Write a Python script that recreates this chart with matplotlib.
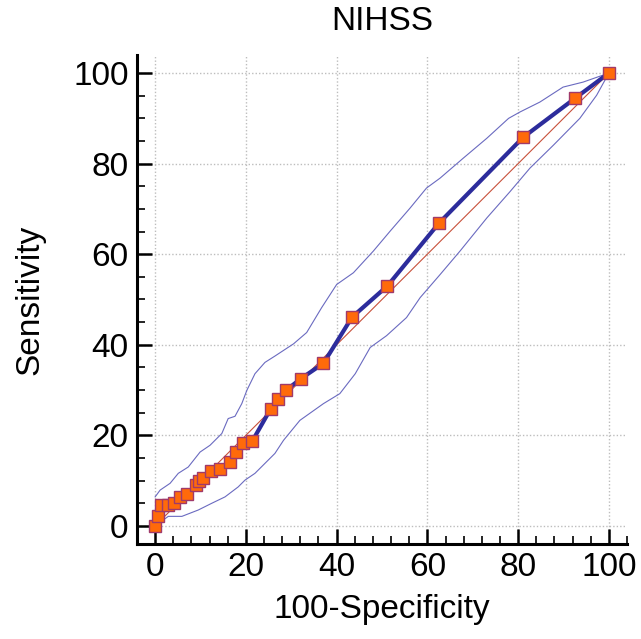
import matplotlib
matplotlib.use("Agg")
import matplotlib.pyplot as plt
from matplotlib.ticker import MultipleLocator

plt.rcParams['font.family'] = ['Liberation Sans', 'DejaVu Sans']

# ROC points (100-Specificity, Sensitivity)
fpr = [0, 0.6, 1.3, 2.8, 4.1, 5.4, 7.1, 8.9, 9.7, 10.6, 12.4, 14.3, 16.4, 17.8,
       19.3, 21.4, 25.5, 27.0, 28.8, 32.1, 37.1, 43.4, 51.2, 62.5, 81.1, 92.5, 100]
tpr = [0, 2.2, 4.5, 4.5, 5.1, 6.4, 7.0, 9.0, 9.9, 10.6, 12.2, 12.6, 14.2, 16.3,
       18.3, 18.7, 25.9, 28.0, 29.9, 32.5, 35.9, 46.1, 53.0, 66.8, 85.8, 94.4, 100]

# confidence bounds
upper_x = [0, 1.1, 3.3, 5.1, 7.3, 9.9, 12.1, 14.7, 16.1, 17.6, 19.1, 20.2, 22.0, 24.2,
           26.4, 30.5, 33.4, 36.7, 40.0, 43.7, 48.1, 51.8, 56.2, 59.8, 62.8, 67.9,
           73.1, 77.9, 80.4, 84.8, 89.9, 94.3, 100]
upper_y = [6.4, 7.9, 9.4, 11.6, 13.0, 16.3, 17.8, 20.4, 23.7, 24.2, 27.0, 29.9, 33.6, 36.1,
           37.5, 40.2, 42.7, 48.2, 53.3, 55.9, 60.7, 65.1, 70.2, 74.6, 76.8, 81.2,
           85.6, 90.0, 91.4, 93.6, 96.9, 98.0, 100]
lower_x = [0.4, 1.8, 2.9, 5.9, 9.5, 12.5, 15.4, 18.3, 19.8, 22.0, 24.2, 26.4, 28.3, 31.9,
           37.1, 40.7, 44.1, 47.4, 51.0, 55.4, 58.4, 62.8, 67.2, 73.1, 78.2, 82.6,
           87.8, 93.6, 97.3, 100]
lower_y = [0, 1.3, 2.1, 2.1, 3.5, 5.0, 6.4, 8.6, 10.1, 11.6, 13.8, 16.0, 18.9, 23.3,
           27.0, 29.2, 33.6, 39.4, 42.0, 46.0, 50.4, 55.5, 60.7, 68.0, 73.8, 79.0,
           84.1, 90.0, 95.1, 100]

diag = [0, 100]

fig = plt.figure(figsize=(6.41, 6.39), dpi=100)
ax = fig.add_axes([0.2137, 0.1487, 0.7645, 0.7653])

ax.plot(upper_x, upper_y, color='#6a6ac0', lw=0.8, zorder=2)
ax.plot(lower_x, lower_y, color='#6a6ac0', lw=0.8, zorder=2)
ax.plot(diag, diag, color='#c8503a', lw=0.8, zorder=3)
ax.plot(fpr, tpr, color='#2c2c9c', lw=3, zorder=4)
ax.plot(fpr, tpr, ls='none', marker='s', ms=9, mfc='#ff6a0a', mec='#a03a6a',
        mew=1, zorder=5)

ax.set_xlim(-4, 104)
ax.set_ylim(-4, 104)
ax.xaxis.set_major_locator(MultipleLocator(20))
ax.yaxis.set_major_locator(MultipleLocator(20))
ax.xaxis.set_minor_locator(MultipleLocator(4))
ax.yaxis.set_minor_locator(MultipleLocator(5))

ax.grid(True, which='major', color='#bdbdbd', ls=(0, (1, 1.5)), lw=1, zorder=0)
ax.set_axisbelow(True)

for s in ['top', 'right']:
    ax.spines[s].set_visible(False)
for s in ['left', 'bottom']:
    ax.spines[s].set_linewidth(2.2)

ax.tick_params(which='major', direction='in', length=11, width=1.8, labelsize=24, pad=6)
ax.tick_params(which='minor', direction='in', length=6, width=1.2)

ax.set_xlabel('100-Specificity', fontsize=24, labelpad=8)
ax.set_ylabel('Sensitivity', fontsize=24, labelpad=20)
ax.set_title('NIHSS', fontsize=24, pad=18)

fig.savefig('out.png', dpi=100)
